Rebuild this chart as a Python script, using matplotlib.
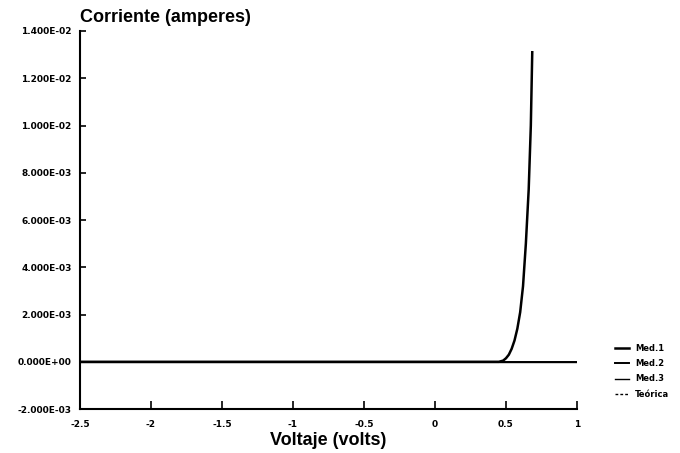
import matplotlib
matplotlib.use("Agg")
import matplotlib.pyplot as plt
from matplotlib.ticker import FuncFormatter

plt.rcParams['font.family'] = ['Liberation Sans', 'DejaVu Sans']
plt.rcParams['font.weight'] = 'bold'

# Med.1 : diode forward curve
v_med1 = [-2.5, -2.0, -1.5, -1.0, -0.5, 0.0, 0.3, 0.45, 0.48, 0.50, 0.52,
          0.54, 0.56, 0.58, 0.60, 0.62, 0.64, 0.66, 0.675, 0.685]
i_med1 = [0, 0, 0, 0, 0, 0, 0, 0, 0.00005, 0.00015, 0.0003,
          0.00055, 0.0009, 0.0014, 0.0021, 0.0032, 0.0050, 0.0073, 0.0100, 0.0131]

# Med.2 / Med.3 : flat near zero over the whole range
v_med2 = [-2.5, -1.5, -0.5, 0.5, 1.0]
i_med2 = [0, 0, 0, 0, 0]
v_med3 = [-2.5, 1.0]
i_med3 = [0, 0]

x_ticks = [-2.5, -2, -1.5, -1, -0.5, 0, 0.5, 1]
x_tick_labels = ['-2.5', '-2', '-1.5', '-1', '-0.5', '0', '0.5', '1']
y_ticks = [-0.002, 0, 0.002, 0.004, 0.006, 0.008, 0.010, 0.012, 0.014]

fig = plt.figure(figsize=(6.8, 4.53), dpi=100)
ax = fig.add_axes([0.1176, 0.097, 0.7309, 0.8346])

ax.plot(v_med1, i_med1, color='black', lw=1.8, label='Med.1')
ax.plot(v_med2, i_med2, color='black', lw=1.4, label='Med.2')
ax.plot(v_med3, i_med3, color='black', lw=1.0, label='Med.3')
ax.plot([], [], color='black', lw=1.0, ls=(0, (2, 1.5)), label='Teórica')

ax.set_xlim(-2.5, 1)
ax.set_ylim(-0.002, 0.014)
ax.set_xticks(x_ticks)
ax.set_xticklabels(x_tick_labels)
ax.set_yticks(y_ticks)

def sci(v, pos):
    s = '%.3E' % v
    if abs(v) < 1e-12:
        s = '0.000E+00'
    return s

ax.yaxis.set_major_formatter(FuncFormatter(sci))

for sp in ['top', 'right']:
    ax.spines[sp].set_visible(False)
for sp in ['left', 'bottom']:
    ax.spines[sp].set_linewidth(1.5)

ax.tick_params(axis='y', direction='in', length=4, width=1.2, labelsize=6.5, pad=6)
ax.tick_params(axis='x', direction='in', length=6, width=1.2, labelsize=6.5, pad=8)
for lab in ax.get_xticklabels() + ax.get_yticklabels():
    lab.set_fontweight('bold')
    lab.set_family('DejaVu Sans')

fig.text(0.118, 0.962, 'Corriente (amperes)', fontsize=13, fontweight='bold',
         va='center', ha='left')
fig.text(0.483, 0.027, 'Voltaje (volts)', fontsize=13, fontweight='bold',
         va='center', ha='center')

fig.legend(loc='upper left', bbox_to_anchor=(0.9, 0.248), frameon=False,
           handlelength=1.6, handletextpad=0.8, labelspacing=0.75,
           borderaxespad=0, prop={'weight': 'bold', 'size': 6, 'family': 'DejaVu Sans'})

fig.savefig('out.png', dpi=100)
